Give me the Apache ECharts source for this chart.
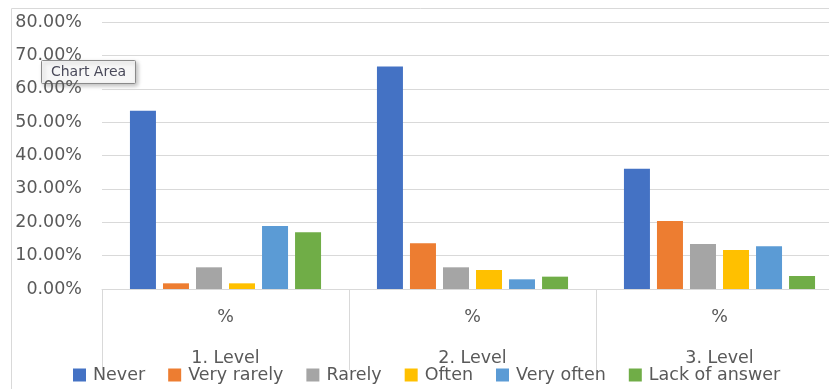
<!DOCTYPE html>
<html>
<head>
<meta charset="utf-8">
<script src="https://cdn.jsdelivr.net/npm/echarts@6/dist/echarts.min.js"></script>
<style>
html,body{margin:0;padding:0;background:#fff;}
#chart{width:829px;height:389px;}
</style>
</head>
<body>
<div id="chart"></div>
<script>
const subCategories = ['%', '%', '%'];
const levels = ['1. Level', '2. Level', '3. Level'];
const seriesNames = ['Never', 'Very rarely', 'Rarely', 'Often', 'Very often', 'Lack of answer'];
const never = [53.4, 66.7, 36.0];
const veryRarely = [1.7, 13.7, 20.4];
const rarely = [6.5, 6.5, 13.5];
const often = [1.7, 5.7, 11.7];
const veryOften = [18.9, 2.9, 12.8];
const lackOfAnswer = [17.0, 3.7, 3.9];
const seriesData = [never, veryRarely, rarely, often, veryOften, lackOfAnswer];
const colors = ['#4472C4', '#ED7D31', '#A5A5A5', '#FFC000', '#5B9BD5', '#70AD47'];

const FONT = 'DejaVu Sans';
const TXT = '#595959';
const chart = echarts.init(document.getElementById('chart'));
chart.setOption({
  animation: false,
  color: colors,
  textStyle: { fontFamily: FONT },
  grid: { left: 102, width: 741, top: 22, bottom: 100, containLabel: false, outerBoundsMode: 'none' },
  legend: {
    left: 73, top: 366, padding: 0,
    itemWidth: 13, itemHeight: 13, itemGap: 23,
    icon: 'rect',
    textStyle: { fontFamily: FONT, fontSize: 17.5, color: TXT, padding: [0, 0, 0, 2] },
    data: seriesNames
  },
  xAxis: [
    {
      type: 'category', data: subCategories, position: 'bottom',
      axisLine: { lineStyle: { color: '#d9d9d9', width: 1 } },
      axisTick: { show: true, length: 81, alignWithLabel: false, lineStyle: { color: '#d9d9d9' } },
      axisLabel: { margin: 19, fontSize: 17.5, color: TXT, fontFamily: FONT }
    },
    {
      type: 'category', data: levels, position: 'bottom', offset: 40,
      axisLine: { show: false }, axisTick: { show: false },
      axisLabel: { margin: 20, fontSize: 17.5, color: TXT, fontFamily: FONT }
    }
  ],
  yAxis: {
    type: 'value', min: 0, max: 80, interval: 10,
    axisLine: { show: false }, axisTick: { show: false },
    splitLine: { lineStyle: { color: '#d9d9d9', width: 1 } },
    axisLabel: { margin: 20, fontSize: 17.5, color: TXT, fontFamily: FONT,
      formatter: v => v.toFixed(2) + '%' }
  },
  series: seriesNames.map((name, i) => ({
    name, type: 'bar', xAxisIndex: 0,
    data: seriesData[i],
    barWidth: 26, barGap: '27%',
    itemStyle: { color: colors[i] }
  })),
  graphic: [
    { type: 'rect', shape: { x: 11.5, y: 8.5, width: 900, height: 500 },
      style: { fill: 'none', stroke: '#d9d9d9', lineWidth: 1 }, silent: true, z: 0 },
    { type: 'group', left: 41, top: 60, z: 100, children: [
      { type: 'rect', shape: { x: 0, y: 0, width: 94, height: 23, r: 1 },
        style: { fill: '#f7f7f7', stroke: '#8a8a8a', lineWidth: 1,
          shadowBlur: 4, shadowOffsetX: 2, shadowOffsetY: 2, shadowColor: 'rgba(0,0,0,0.25)' } },
      { type: 'text', x: 47, y: 11.5,
        style: { text: 'Chart Area', fontFamily: FONT, fontSize: 14, fill: '#4a4a5a',
          align: 'center', verticalAlign: 'middle' } }
    ] }
  ]
});
</script>
</body>
</html>
